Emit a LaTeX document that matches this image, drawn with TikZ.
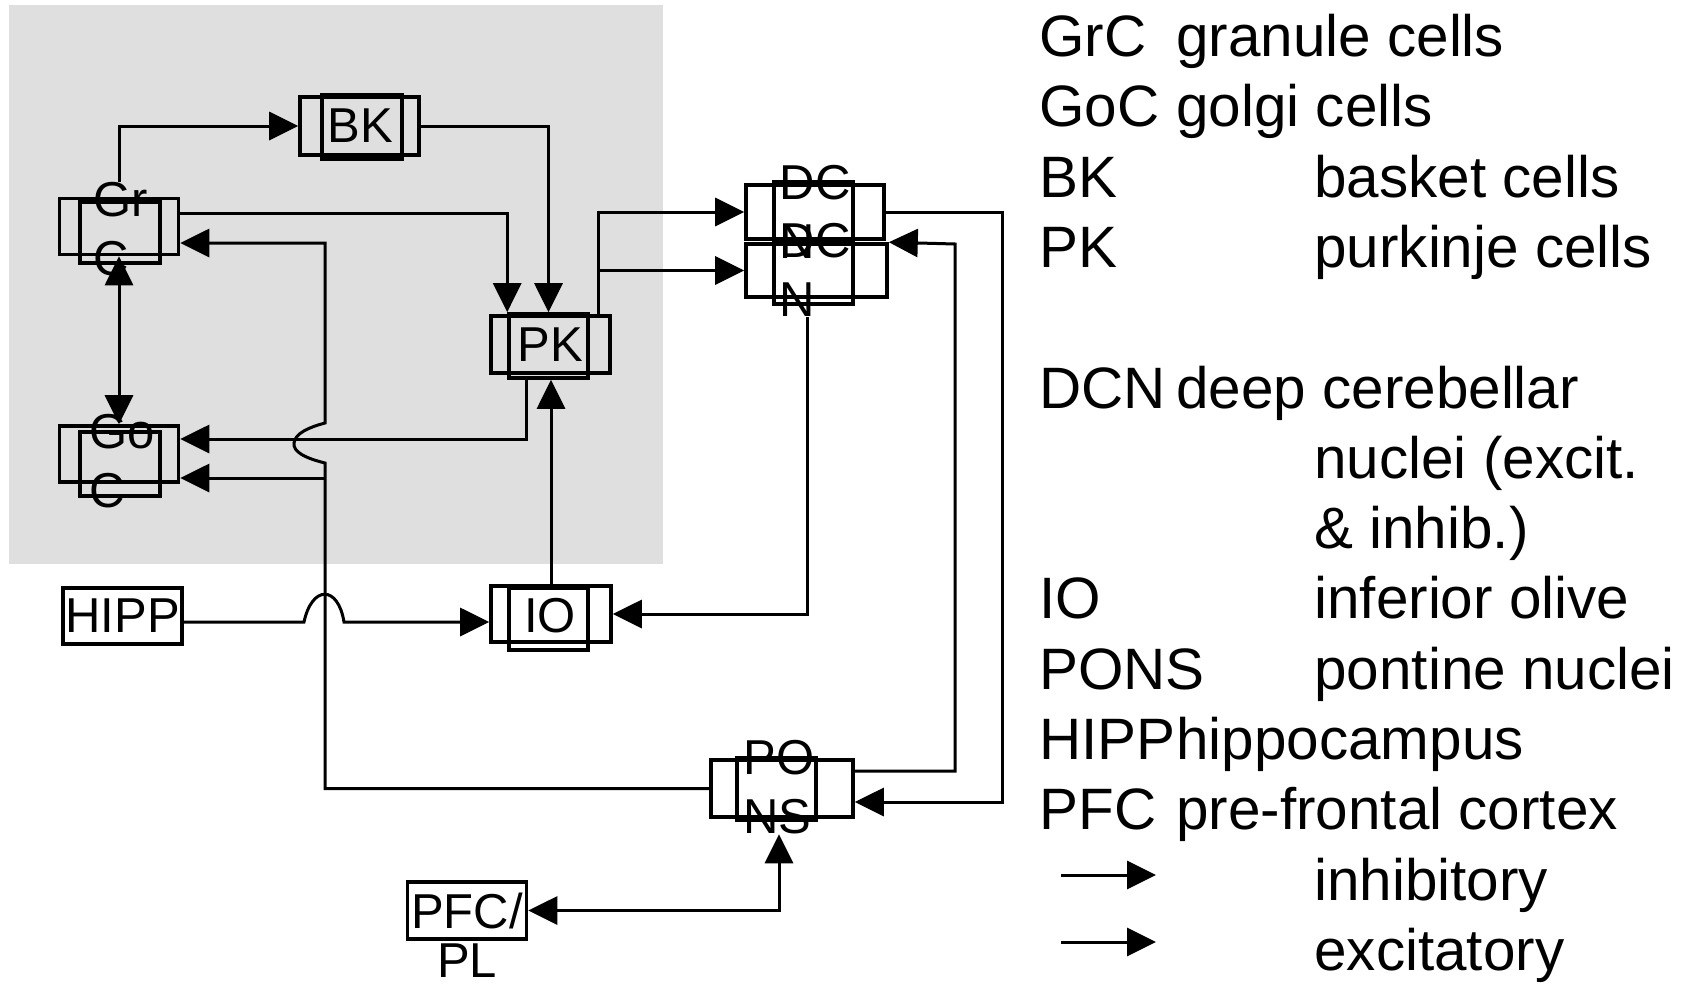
\documentclass[tikz,border=0pt]{standalone}
\usepackage{fontspec}
\setmainfont{Liberation Sans}
\usetikzlibrary{arrows.meta,positioning,calc}

\begin{document}
\begin{tikzpicture}[x=0.5pt,y=-0.5pt,
  cell/.style={draw,line width=1.8pt,minimum width=59.5pt,minimum height=28pt,inner sep=0pt},
  cellin/.style={draw,line width=1.8pt,minimum width=40pt,minimum height=31pt,inner sep=0pt},
  lbl/.style={font=\fontsize{24.5}{29.5}\selectfont,align=left,inner sep=0pt},
  key/.style={font=\fontsize{29.2}{35}\selectfont,anchor=base west,inner sep=0pt},
  arr/.style={line width=1.5pt,-{Triangle[length=14.5pt,width=14pt]}},
  dbl/.style={line width=1.5pt,{Triangle[length=14.5pt,width=14pt]}-{Triangle[length=14.5pt,width=14pt]}}]
  \useasboundingbox (0,0) rectangle (1692,985);
  \fill[gray!25] (9,5) rectangle (663,564);

  % cerebellar cortex cells
  \node[cell] (grc) at (119,226.5) {};
  \node[cellin,minimum height=30.5pt] (grci) at (120,232.5) {};
  \node[lbl] (grct) at (121,229.5) {Gr\\C};
  \node[cell] (goc) at (119,454) {};
  \node[cellin,minimum height=32pt] (goci) at (120,464) {};
  \node[lbl] (goct) at (122,461) {Go\\C};
  \node[cell,minimum height=29pt] (bk) at (359.5,126) {};
  \node[cellin,minimum height=32pt] (bki) at (362,127) {};
  \node[lbl] (bkt) at (360,126) {BK};
  \node[cell,minimum height=28.5pt] (pk) at (550.5,344.5) {};
  \node[cellin,minimum width=39.5pt,minimum height=32pt] (pki) at (548.5,346) {};
  \node[lbl] (pkt) at (550,345) {PK};
  \node[cell,minimum width=60pt] (io) at (551,614) {};
  \node[cellin,minimum width=39.5pt] (ioi) at (548.5,619) {};
  \node[lbl] (iot) at (550,616) {IO};

  % nuclei
  \node[cell,minimum width=69pt,minimum height=27pt] (dcn1) at (815,212) {};
  \node[cellin,minimum width=39.5pt,minimum height=30pt] (dcn1i) at (813.5,212) {};
  \node[lbl] (dcn1t) at (815,211.5) {DC\\N};
  \node[cell,minimum width=70.5pt,minimum height=26.5pt] (dcn2) at (816.5,270.5) {};
  \node[cellin,minimum width=39.5pt,minimum height=30pt] (dcn2i) at (813.5,274) {};
  \node[lbl] (dcn2t) at (815,270) {DC\\N};
  \node[cell,minimum width=71pt,minimum height=28.5pt] (pons) at (782,788.5) {};
  \node[cellin,minimum width=39.5pt] (ponsi) at (776.5,789) {};
  \node[lbl] (ponst) at (779,787) {PO\\NS};
  \node[cell,lbl] (hipp) at (122.5,616) {HIPP};
  \node[cell,lbl,minimum height=28.5pt] (pfc) at (467,910.5) {PFC/};
  \node[lbl] (pfcb) at (467,961) {PL};

  % connections
  \draw[arr] (grct.north -| grc.north) |- (bk.west);
  \draw[arr] (grc.east |- 0,213) -| (pki.north west);
  \draw[arr] (bk.east) -| (pki.north);
  \draw[dbl] (grc.south) -- (goc.north);
  \draw[arr] (pki.south -| 526,0) |- (goc.east |- 0,439);
  \draw[arr] (pons.west) -| (325,463) .. controls (305,458) and (293,452) .. (294,443)
    .. controls (295,433) and (310,427) .. (325,423) |- (grc.east |- 0,243);
  \draw[arr] (325,478) -- (goc.east |- 0,478);
  \draw[arr] (io.north) -- (io.north |- pki.south);
  \draw[arr] (hipp.east |- 0,622) -- (304,622) .. controls (312,585) and (338,585) .. (344,622)
    -- (io.west |- 0,622);
  \coordinate (pkout) at ($(pk.north east)+(-13,0)$);
  \draw[arr] (pkout) |- (dcn1.west);
  \draw[arr] (pkout |- dcn2.west) -- (dcn2.west);
  \draw[arr] (dcn2t.south -| 807,0) |- (io.east);
  \draw[arr] (dcn1.east) -| (1002,802) -- (pons.east |- 0,802);
  \draw[arr] (pons.east |- 0,771) -| (955,244) -- (dcn2.north east);
  \draw[dbl] (ponst.south) |- (pfc.east);

  % key
  \node[key] (kgrc) at (1039,56.5) {GrC};
  \node[key] (kgrcd) at (1176,56.5) {granule cells};
  \node[key] (kgoc) at (1039,126.8) {GoC};
  \node[key] (kgocd) at (1176,126.8) {golgi cells};
  \node[key] (kbk) at (1039,197.1) {BK};
  \node[key] (kbkd) at (1314,197.1) {basket cells};
  \node[key] (kpk) at (1039,267.4) {PK};
  \node[key] (kpkd) at (1314,267.4) {purkinje cells};
  \node[key] (kdcn) at (1039,408) {DCN};
  \node[key] (kdcnd) at (1176,408) {deep cerebellar};
  \node[key] (kdcne) at (1314,478.3) {nuclei (excit.};
  \node[key] (kdcnf) at (1314,548.6) {\& inhib.)};
  \node[key] (kio) at (1039,618.9) {IO};
  \node[key] (kiod) at (1314,618.9) {inferior olive};
  \node[key] (kpons) at (1039,689.2) {PONS};
  \node[key] (kponsd) at (1314,689.2) {pontine nuclei};
  \node[key] (khipp) at (1039,759.5) {HIPP};
  \node[key] (khippd) at (1176,759.5) {hippocampus};
  \node[key] (kpfc) at (1039,829.8) {PFC};
  \node[key] (kpfcd) at (1176,829.8) {pre-frontal cortex};
  \coordinate (kinha) at (1061,875);
  \coordinate (kinhb) at (1156,875);
  \draw[arr] (kinha) -- (kinhb);
  \node[key] (kinh) at (1314,900.1) {inhibitory};
  \coordinate (kexca) at (1061,942);
  \coordinate (kexcb) at (1156,942);
  \draw[arr] (kexca) -- (kexcb);
  \node[key] (kexc) at (1314,970.4) {excitatory};
\end{tikzpicture}
\end{document}
